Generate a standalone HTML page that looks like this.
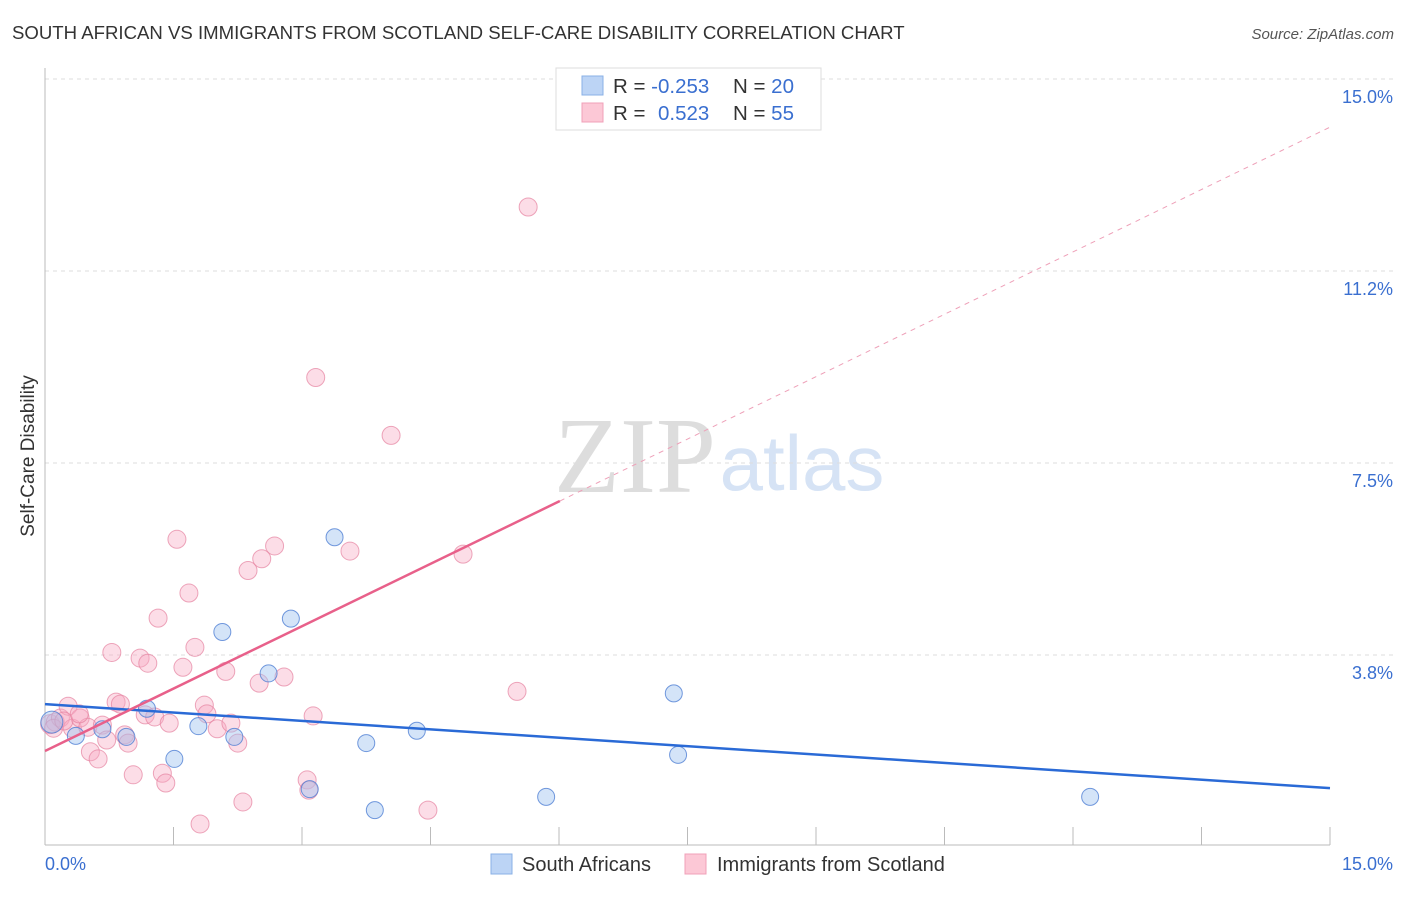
<!DOCTYPE html>
<html><head><meta charset="utf-8"><style>
body{margin:0;background:#fff;font-family:"Liberation Sans",sans-serif}
</style></head><body>
<svg width="1406" height="892" id="svg" xmlns="http://www.w3.org/2000/svg">
<text x="12" y="39" font-size="18.6" fill="#333">SOUTH AFRICAN VS IMMIGRANTS FROM SCOTLAND SELF-CARE DISABILITY CORRELATION CHART</text>
<text x="1394" y="39" font-size="15" fill="#555" font-style="italic" text-anchor="end">Source: ZipAtlas.com</text>
<text x="635" y="492" font-size="108" fill="#ddd" font-family="Liberation Serif" text-anchor="middle">ZIP</text>
<text x="802" y="490" font-size="78" fill="#d6e3f5" text-anchor="middle">atlas</text>
<text x="34" y="456" font-size="19" fill="#333" transform="rotate(-90 34 456)" text-anchor="middle">Self-Care Disability</text>
<g id="grid"></g><g id="pts"></g><g id="lines"></g>
<g>
<rect x="556" y="68" width="265" height="62" fill="#fff" stroke="#ddd"/>
<rect x="582" y="76" width="21" height="19" fill="#bcd4f5" stroke="#8ab0e6"/>
<rect x="582" y="103" width="21" height="19" fill="#fcc8d6" stroke="#f0a0b8"/>
<text x="613" y="93" font-size="20.5" fill="#333">R = <tspan fill="#3a6fd0">-0.253</tspan><tspan x="733">N = </tspan><tspan fill="#3a6fd0">20</tspan></text>
<text x="613" y="120" font-size="20.5" fill="#333">R = <tspan x="658" fill="#3a6fd0">0.523</tspan><tspan x="733">N = </tspan><tspan fill="#3a6fd0">55</tspan></text>
</g>
<g>
<rect x="491" y="854" width="21" height="20" fill="#bcd4f5" stroke="#8ab0e6"/>
<text x="522" y="871" font-size="20" fill="#333">South Africans</text>
<rect x="685" y="854" width="21" height="20" fill="#fcc8d6" stroke="#f0a0b8"/>
<text x="717" y="871" font-size="20" fill="#333">Immigrants from Scotland</text>
</g>
<text x="45" y="870" font-size="18" fill="#3a6fd0">0.0%</text>
<text x="1393" y="870" font-size="18" fill="#3a6fd0" text-anchor="end">15.0%</text>
</svg>
<script>
const yTicks=[3.75,7.5,11.25,15];
const yTickLabels=["3.8%","7.5%","11.2%","15.0%"];
const xTicks=[1.5,3,4.5,6,7.5,9,10.5,12,13.5,15];
const blueX=[0.08,0.36,0.67,0.95,1.19,1.51,1.79,2.07,2.21,2.61,2.87,3.09,3.38,3.75,3.85,4.34,5.85,7.34,7.39,12.2];
const blueY=[2.44,2.17,2.3,2.15,2.7,1.72,2.36,4.2,2.15,3.39,4.46,1.13,6.05,2.03,0.72,2.27,0.98,3.0,1.8,0.98];
const pinkX=[0.06,0.12,0.18,0.27,0.32,0.41,0.5,0.53,0.62,0.67,0.72,0.78,0.83,0.88,0.93,0.97,1.03,1.11,1.17,1.2,1.28,1.32,1.37,1.41,1.45,1.54,1.61,1.68,1.75,1.81,1.86,1.89,2.01,2.11,2.17,2.25,2.31,2.37,2.5,2.53,2.68,2.79,3.06,3.08,3.13,3.16,3.56,4.04,4.47,4.88,5.51,5.64,0.1,0.22,0.4];
const pinkY=[2.4,2.44,2.52,2.75,2.32,2.52,2.34,1.86,1.72,2.38,2.09,3.8,2.83,2.79,2.19,2.03,1.41,3.69,2.58,3.59,2.54,4.47,1.44,1.25,2.42,6.01,3.51,4.96,3.9,0.45,2.77,2.6,2.31,3.43,2.42,2.03,0.88,5.4,3.2,5.63,5.88,3.32,1.31,1.11,2.56,9.17,5.78,8.04,0.72,5.72,3.04,12.5,2.32,2.46,2.6];
const blueLine=[2.79,1.15];
const pinkLine=[1.875,14.06];
const pinkSolidEnd=6.01;
const X=v=>45+v*85.667, Y=v=>847-v*51.2;
const NS="http://www.w3.org/2000/svg";
function mk(t,a,p){const e=document.createElementNS(NS,t);for(const k in a)e.setAttribute(k,a[k]);p.appendChild(e);return e;}
const grid=document.getElementById('grid'),pts=document.getElementById('pts'),lines=document.getElementById('lines');
yTicks.forEach((v,i)=>{
const l=mk('line',{x1:45,x2:1394,y1:Y(v),y2:Y(v),stroke:'#ddd','stroke-dasharray':'4,4'},grid);


const t=mk('text',{x:1393,y:Y(v)+24,'font-size':18,fill:'#3a6fd0','text-anchor':'end'},grid);
t.textContent=yTickLabels[i];


});
const ax=mk('line',{x1:45,x2:45,y1:68,y2:845,stroke:'#bbb'},grid);


const bx=mk('line',{x1:45,x2:1330,y1:845,y2:845,stroke:'#bbb'},grid);


xTicks.forEach(v=>{
const l=mk('line',{x1:X(v),x2:X(v),y1:827,y2:845,stroke:'#bbb'},grid);


});
pinkX.forEach((x,i)=>{
const c=mk('circle',{cx:X(x),cy:Y(pinkY[i]),r:i==0?9.5:9,fill:'rgba(248,170,195,0.4)',stroke:'rgba(230,130,160,0.7)','stroke-width':1},pts);


});
blueX.forEach((x,i)=>{
const c=mk('circle',{cx:X(x),cy:Y(blueY[i]),r:i==0?11:8.5,fill:'rgba(160,195,240,0.45)',stroke:'rgba(70,120,210,0.75)','stroke-width':1},pts);


});
const pl=v=>pinkLine[0]+(pinkLine[1]-pinkLine[0])*v/15;
let a=mk('line',{x1:X(0),y1:Y(blueLine[0]),x2:X(15),y2:Y(blueLine[1]),stroke:'#2a6ad6','stroke-width':2.5},lines);


a=mk('line',{x1:X(0),y1:Y(pl(0)),x2:X(pinkSolidEnd),y2:Y(pl(pinkSolidEnd)),stroke:'#e8608a','stroke-width':2.5},lines);


a=mk('line',{x1:X(pinkSolidEnd),y1:Y(pl(pinkSolidEnd)),x2:X(15),y2:Y(pl(15)),stroke:'#eea0b8','stroke-width':1,'stroke-dasharray':'5,5'},lines);


</script>
</body></html>
